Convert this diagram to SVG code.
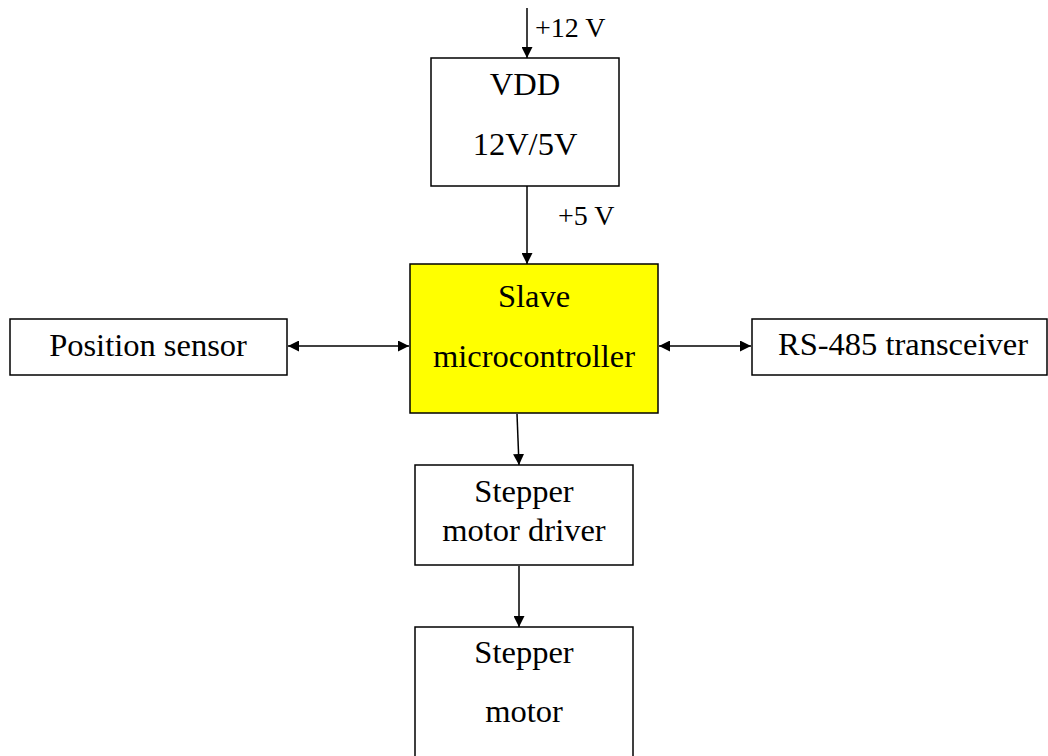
<svg xmlns="http://www.w3.org/2000/svg" width="1048" height="756" viewBox="0 0 1048 756">
<defs>
<marker id="ah" viewBox="0 0 10 10" refX="10" refY="5" markerWidth="11" markerHeight="11" markerUnits="userSpaceOnUse" orient="auto-start-reverse">
<path d="M0,0 L10,5 L0,10 z" fill="#000"/>
</marker>
<style>
.box{fill:#fff;stroke:#000;stroke-width:1.5}
.yel{fill:#ffff00;stroke:#000;stroke-width:1.5}
.t{font-family:"Liberation Serif","Times New Roman",serif;font-size:32.5px;fill:#000;text-anchor:middle}
.lbl{font-family:"Liberation Serif","Times New Roman",serif;font-size:28px;fill:#000}
.c{stroke:#000;stroke-width:1.5;fill:none}
</style>
</defs>
<rect width="1048" height="756" fill="#fff"/>
<g id="connectors">
<line class="c" x1="527" y1="8" x2="527" y2="58" marker-end="url(#ah)"/>
<line class="c" x1="527" y1="186" x2="527" y2="264" marker-end="url(#ah)"/>
<line class="c" x1="288" y1="346" x2="409" y2="346" marker-start="url(#ah)" marker-end="url(#ah)"/>
<line class="c" x1="659" y1="346" x2="751" y2="346" marker-start="url(#ah)" marker-end="url(#ah)"/>
<line class="c" x1="517" y1="414" x2="519" y2="465" marker-end="url(#ah)"/>
<line class="c" x1="519" y1="566" x2="519" y2="627" marker-end="url(#ah)"/>
<text class="lbl" x="535" y="37">+12 V</text>
<text class="lbl" x="558" y="225">+5 V</text>
</g>
<g id="vdd">
<rect class="box" x="431" y="58" width="188" height="128"/>
<text class="t" x="525" y="95">VDD</text>
<text class="t" x="525" y="155">12V/5V</text>
</g>
<g id="slave">
<rect class="yel" x="410" y="264" width="248" height="149"/>
<text class="t" x="534" y="307">Slave</text>
<text class="t" x="534" y="367">microcontroller</text>
</g>
<g id="position">
<rect class="box" x="10" y="319" width="277" height="56"/>
<text class="t" x="148" y="356">Position sensor</text>
</g>
<g id="rs485">
<rect class="box" x="752" y="319" width="295" height="56"/>
<text class="t" x="903" y="355">RS-485 transceiver</text>
</g>
<g id="driver">
<rect class="box" x="415" y="465" width="218" height="100"/>
<text class="t" x="524" y="502">Stepper</text>
<text class="t" x="524" y="541">motor driver</text>
</g>
<g id="motor">
<rect class="box" x="415" y="627" width="218" height="140"/>
<text class="t" x="524" y="663">Stepper</text>
<text class="t" x="524" y="722">motor</text>
</g>
</svg>
